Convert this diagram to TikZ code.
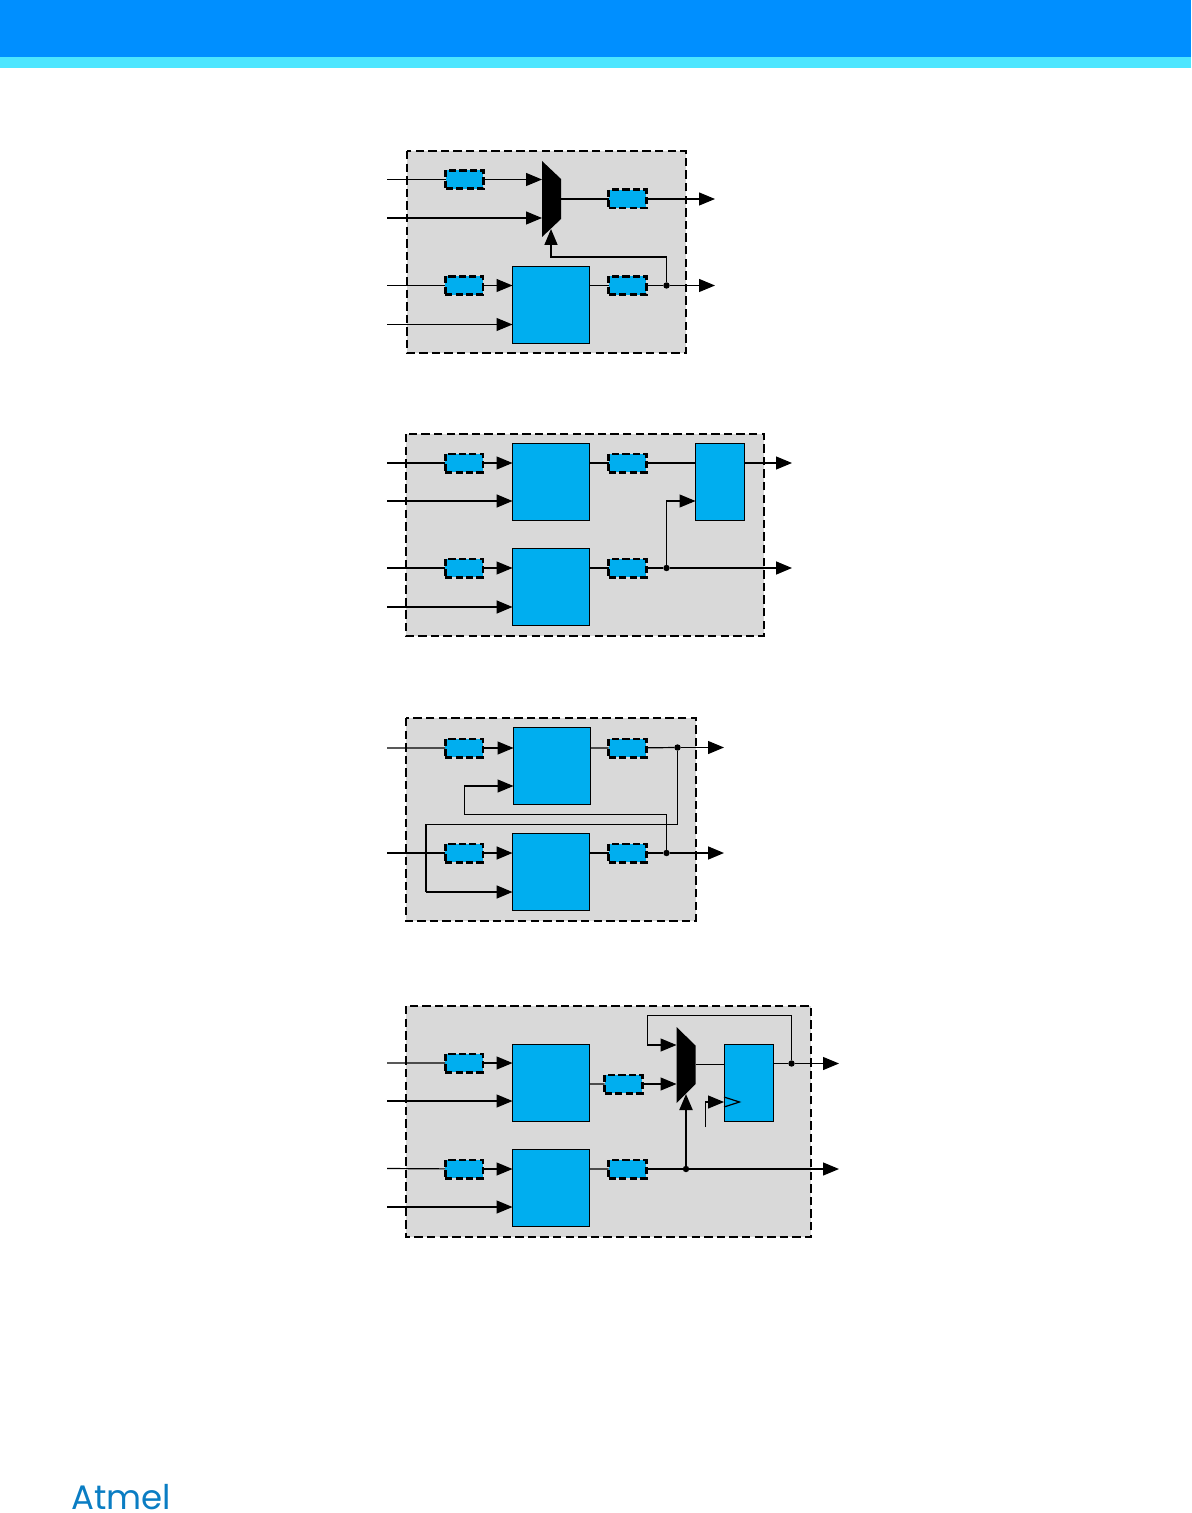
\documentclass[tikz,border=0pt]{standalone}
\usepackage{fontspec}
\usepackage{tikz}
\usetikzlibrary{arrows.meta}
\setmainfont{Poppins}
\definecolor{headblue}{RGB}{0,143,255}
\definecolor{headcyan}{RGB}{77,230,255}
\definecolor{boxblue}{RGB}{0,174,239}
\definecolor{panelgray}{RGB}{217,217,217}
\definecolor{logoblue}{RGB}{10,125,195}
\tikzset{
  panel/.style={draw=black,fill=panelgray,line width=1.4pt,dash pattern=on 4.2pt off 2.1pt},
  regbox/.style={draw=black,fill=boxblue,line width=1.3pt,dash pattern=on 3.6pt off 1.6pt,minimum width=18.8pt,minimum height=9.2pt,inner sep=0pt,outer sep=0pt},
  lutbox/.style={draw=black,fill=boxblue,line width=0.5pt,minimum width=38.5pt,minimum height=38.5pt,inner sep=0pt,outer sep=0pt},
  ffbox/.style={lutbox,minimum width=24.5pt},
  dotnode/.style={circle,fill=black,minimum size=3.2pt,inner sep=0pt,outer sep=0pt},
  wire/.style={line width=0.6pt},
  wirebold/.style={line width=0.8pt},
  sig/.style={wire,-{Triangle[length=8pt,width=6.5pt]}},
  sigbold/.style={wirebold,-{Triangle[length=8pt,width=6.5pt]}}
}
\begin{document}
\begin{tikzpicture}[x=0.5pt,y=-0.5pt]
\useasboundingbox (0,0) rectangle (1191,1513);
% header band
\fill[headblue] (0,0) rectangle (1191,57.5);
\fill[headcyan] (0,57.5) rectangle (1191,68);
\node[text=logoblue,font=\fontsize{17}{17}\selectfont,inner sep=0pt] (logo) at (121,1497.5) {Atmel};
% panels
\foreach \xa/\ya/\xb/\yb in {407/151/686/353,406/434/764/636,406/718/696/921,406/1006/811/1237}
  \draw[panel] (\xa,\ya) rectangle (\xb,\yb);
% dashed registers
\foreach \name/\cx/\cy in {ra/464.5/179.5,rb/627.5/199,rc/464/285.5,rd/627.5/285.5,
  re/464/463,rf/627.5/463,rg/464/568,rh/627.5/568,
  ri/464/748,rj/627.5/748,rk/464/853,rl/627.5/853,
  rm/464/1063,rn/623.5/1084,ro/464/1169,rp/627.5/1169}
  \node[regbox] (\name) at (\cx,\cy) {};
% blue blocks
\foreach \name/\cx/\cy in {la/551/305,lb/551/482,lc/551/587,ld/552/766,le/551/871.5,lf/551/1083,lg/551/1188}
  \node[lutbox] (\name) at (\cx,\cy) {};
\node[ffbox] (fa) at (720,482) {};
\node[ffbox] (fb) at (748.5,1083) {};
% muxes
\fill[black] (542,161)--(561,179)--(561,219)--(542,237)--cycle;
\fill[black] (676.5,1027)--(695.5,1045.5)--(695.5,1084)--(676.5,1103)--cycle;
\coordinate (ma) at (542,179.5);
\coordinate (mb) at (542,218);
\coordinate (mc) at (561,199);
\coordinate (md) at (551,229);
\coordinate (me) at (676.5,1045);
\coordinate (mf) at (676.5,1084);
\coordinate (mg) at (695.5,1064.5);
\coordinate (mh) at (686,1094);
% free ends
\foreach \name/\cx/\cy in {ia/387/179.5,ib/387/218,ic/387/285.5,id/387/324.5,
  ie/387/463,if/387/501,ig/387/568,ih/387/607,
  ii/387/748,ij/387/853,
  ik/387/1063,il/387/1101,im/387/1168.5,in/387/1207,
  oa/715/199,ob/715/285.5,oc/792/463,od/792/568,oe/724/747.5,of/724/853,og/839/1063.5,oh/839/1169}
  \coordinate (\name) at (\cx,\cy);
\coordinate (ck) at (705.5,1127);
% junctions
\node[dotnode] (ja) at (666.5,285.5) {};
\node[dotnode] (jb) at (666.5,568) {};
\node[dotnode] (jc) at (677.5,747.5) {};
\node[dotnode] (jd) at (666.5,853) {};
\node[dotnode] (je) at (791.5,1063.5) {};
\node[dotnode] (jf) at (686,1169) {};
% first panel
\draw[wire] (ia)--(ra) (mc)--(rb) (ic)--(rc) (la.east |- rd)--(rd) (rd)--(ja);
\draw[sig] (ra)--(ma);
\draw[sig] (ib)--(mb);
\draw[sig] (rb)--(oa);
\draw[sig] (rc)--(rc -| la.west);
\draw[sig] (id)--(id -| la.west);
\draw[sig] (ja)--(ob);
\draw[sigbold] (ja) |- (551,257) -- (md);
% second panel
\draw[wire] (ie)--(re) (lb.east |- rf)--(rf) (rf)--(rf -| fa.west) (ig)--(rg) (lc.east |- rh)--(rh) (rh)--(jb);
\draw[sig] (re)--(re -| lb.west);
\draw[sigbold] (if)--(if -| lb.west);
\draw[sig] (rg)--(rg -| lc.west);
\draw[sigbold] (ih)--(ih -| lc.west);
\draw[sig] (fa.east |- oc)--(oc);
\draw[sigbold] (jb)--(od);
\draw[sig] (jb) |- (if -| fa.west);
% third panel
\draw[wire] (ii)--(ri) (ld.east |- rj)--(rj) (rj)--(jc);
\draw[wirebold] (ij)--(rk) (le.east |- rl)--(rl) (rl)--(jd);
\draw[sig] (ri)--(ri -| ld.west);
\draw[sigbold] (rk)--(rk -| le.west);
\draw[sig] (jc)--(oe);
\draw[sigbold] (jd)--(of);
\draw[wire] (jc) |- (426,824.5) -- (426,892);
\draw[sigbold] (426,892)--(le.west |- 0,892);
\draw[sig] (jd) |- (464.5,814.5) |- (ld.west |- 0,786);
% fourth panel
\draw[wire] (ik)--(rm) (lf.east |- rn)--(rn) (im)--(ro) (lg.east |- rp)--(rp);
\draw[wire] (rp)--(jf) (mg)--(mg -| fb.west) (fb.east |- je)--(je);
\draw[sig] (rm)--(rm -| lf.west);
\draw[sig] (il)--(il -| lf.west);
\draw[sig] (ro)--(ro -| lg.west);
\draw[sig] (in)--(in -| lg.west);
\draw[sig] (rn)--(mf);
\draw[sig] (je) |- (647.5,1015.5) |- (me);
\draw[sig] (je)--(og);
\draw[sig] (jf)--(oh);
\draw[line width=1pt,-{Triangle[length=8pt,width=6.5pt]}] (jf)--(mh);
\draw[sig] (ck) |- (fb.west |- 0,1102);
% clock mark
\draw[wire] (fb.west |- 0,1097)--(739.5,1102)--(fb.west |- 0,1107);
\end{tikzpicture}
\end{document}
